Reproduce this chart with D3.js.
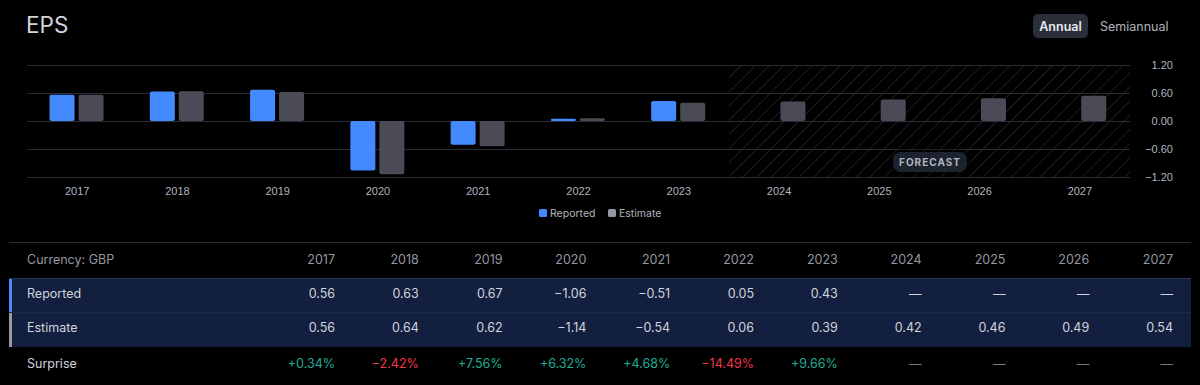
<!DOCTYPE html>
<html lang="en">
<head>
<meta charset="utf-8">
<title>EPS</title>
<script src="https://d3js.org/d3.v7.min.js"></script>
<style>
  html, body { margin: 0; padding: 0; background: #000; }
  svg { display: block; font-family: Inter, "Noto Sans", sans-serif; }
  .axis text { fill: #b2b5be; font-size: 11px; }
  .cell { fill: #d1d4dc; font-size: 12.5px; }
</style>
</head>
<body>
<script>
// Data
var years = ["2017", "2018", "2019", "2020", "2021", "2022", "2023", "2024", "2025", "2026", "2027"];
var reported = [0.56, 0.63, 0.67, -1.06, -0.51, 0.05, 0.43, null, null, null, null];
var estimate = [0.56, 0.64, 0.62, -1.14, -0.54, 0.06, 0.39, 0.42, 0.46, 0.49, 0.54];
var surprise = ["+0.34%", "\u22122.42%", "+7.56%", "+6.32%", "+4.68%", "\u221214.49%", "+9.66%", null, null, null, null];
var yTicks = [1.2, 0.6, 0, -0.6, -1.2];
var firstForecast = "2024";

var w = 1200, h = 385;
var blue = "#448aff", grey = "#4a4b56", text = "#d1d4dc", muted = "#b2b5be";

var svg = d3.select("body").append("svg").attr("width", w).attr("height", h);

// Title and period switch
svg.append("text").attr("x", 26).attr("y", 33).attr("fill", text)
  .attr("font-size", 22.5).text("EPS");
svg.append("rect").attr("x", 1033).attr("y", 14).attr("width", 55).attr("height", 24)
  .attr("rx", 5).attr("fill", "#2a2e39");
svg.append("text").attr("x", 1060.5).attr("y", 30.5).attr("text-anchor", "middle")
  .attr("fill", "#e6e8ee").attr("font-size", 12.5).attr("font-weight", 600).text("Annual");
svg.append("text").attr("x", 1100).attr("y", 30.5)
  .attr("fill", muted).attr("font-size", 12.5).text("Semiannual");

// Scales
var x = d3.scaleBand().domain(years).range([27, 1130]);
var y = d3.scaleLinear().domain([-1.2, 1.2]).range([177, 65]);
var barW = 25, gap = 4;

// Hatched forecast area
var defs = svg.append("defs");
defs.append("pattern").attr("id", "hatch").attr("patternUnits", "userSpaceOnUse")
  .attr("width", 10).attr("height", 10).attr("patternTransform", "rotate(45)")
  .append("line").attr("x1", 0).attr("y1", 0).attr("x2", 0).attr("y2", 10)
  .attr("stroke", "#2e313c").attr("stroke-width", 1.2);
var fx = x(firstForecast) + x.step() / 2 - 50;
svg.append("rect").attr("x", fx).attr("y", y(1.2)).attr("width", 1130 - fx)
  .attr("height", y(-1.2) - y(1.2)).attr("fill", "url(#hatch)");

// Grid
svg.append("g").selectAll("line").data(yTicks).join("line")
  .attr("x1", 27).attr("x2", 1130)
  .attr("y1", function(d) { return Math.round(y(d)) + 0.5; })
  .attr("y2", function(d) { return Math.round(y(d)) + 0.5; })
  .attr("stroke", "#2a2d35");

// Y axis
var yAxis = d3.axisRight(y).tickValues(yTicks).tickSize(0).tickPadding(0)
  .tickFormat(function(d) { return d3.format(".2f")(d).replace("-", "\u2212"); });
svg.append("g").attr("class", "axis").attr("transform", "translate(1173,0)")
  .call(yAxis)
  .call(function(g) { g.select(".domain").remove(); })
  .selectAll("text").attr("text-anchor", "end");

// X axis
var xAxis = d3.axisBottom(x).tickSize(0).tickPadding(0);
svg.append("g").attr("class", "axis").attr("transform", "translate(0,187.5)")
  .call(xAxis)
  .call(function(g) { g.select(".domain").remove(); });

// Bars
function barPath(x0, v, wd) {
  var y0 = y(0), y1 = y(v), r = Math.min(2, Math.abs(y1 - y0) / 2);
  var top = Math.min(y0, y1), bot = Math.max(y0, y1);
  return "M" + (x0 + r) + "," + top + "H" + (x0 + wd - r) + "Q" + (x0 + wd) + "," + top + " " + (x0 + wd) + "," + (top + r)
    + "V" + (bot - r) + "Q" + (x0 + wd) + "," + bot + " " + (x0 + wd - r) + "," + bot
    + "H" + (x0 + r) + "Q" + x0 + "," + bot + " " + x0 + "," + (bot - r)
    + "V" + (top + r) + "Q" + x0 + "," + top + " " + (x0 + r) + "," + top + "Z";
}
function cx(d) { return x(d) + x.bandwidth() / 2 - 0.6; }

svg.append("g").selectAll("path").data(years.filter(function(d, i) { return reported[i] != null; }))
  .join("path")
  .attr("d", function(d) { var i = years.indexOf(d); return barPath(cx(d) - gap / 2 - barW, reported[i], barW); })
  .attr("fill", blue);
svg.append("g").selectAll("path").data(years)
  .join("path")
  .attr("d", function(d, i) { return barPath(cx(d) + gap / 2, estimate[i], barW); })
  .attr("fill", grey);

// Forecast badge
var bx = 930, by = 162;
defs.append("filter").attr("id", "glow").attr("x", "-50%").attr("y", "-50%").attr("width", "200%").attr("height", "200%")
  .append("feDropShadow").attr("dx", 0).attr("dy", 0).attr("stdDeviation", 4)
  .attr("flood-color", "#000").attr("flood-opacity", 0.9);
svg.append("rect").attr("x", bx - 37).attr("y", by - 10).attr("width", 74).attr("height", 20)
  .attr("rx", 8).attr("fill", "#1e222d").attr("filter", "url(#glow)");
svg.append("text").attr("x", bx).attr("y", by + 3.5).attr("text-anchor", "middle")
  .attr("fill", muted).attr("font-size", 10).attr("font-weight", 700)
  .attr("letter-spacing", 1).text("FORECAST");

// Legend
var legend = [{ name: "Reported", color: blue, x: 539 }, { name: "Estimate", color: "#9598a1", x: 608 }];
var lg = svg.append("g").selectAll("g").data(legend).join("g")
  .attr("transform", function(d) { return "translate(" + d.x + ",209)"; });
lg.append("rect").attr("width", 8).attr("height", 8).attr("rx", 1.5).attr("fill", function(d) { return d.color; });
lg.append("text").attr("x", 11).attr("y", 8).attr("fill", muted).attr("font-size", 10.5)
  .text(function(d) { return d.name; });

// Table
svg.append("line").attr("x1", 9).attr("x2", 1191).attr("y1", 242.5).attr("y2", 242.5).attr("stroke", "#2a2e39");
var col = d3.scalePoint().domain(years).range([335, 1173]);

svg.append("text").attr("x", 27).attr("y", 263.5).attr("fill", "#9598a1").attr("font-size", 12.5).text("Currency: GBP");
svg.append("g").selectAll("text").data(years).join("text")
  .attr("x", function(d) { return col(d); }).attr("y", 263.5).attr("text-anchor", "end")
  .attr("fill", "#9598a1").attr("font-size", 12.5).text(function(d) { return d; });

svg.append("rect").attr("x", 9).attr("y", 278).attr("width", 1182).attr("height", 69).attr("fill", "#131f3f");
svg.append("line").attr("x1", 9).attr("x2", 1191).attr("y1", 278.5).attr("y2", 278.5).attr("stroke", "#2a3550");
svg.append("line").attr("x1", 9).attr("x2", 1191).attr("y1", 312.5).attr("y2", 312.5).attr("stroke", "#1d2949");
svg.append("rect").attr("x", 9).attr("y", 279).attr("width", 3).attr("height", 33).attr("fill", blue);
svg.append("rect").attr("x", 9).attr("y", 313).attr("width", 3).attr("height", 34).attr("fill", "#9598a1");

function fmt(v) { return v == null ? "\u2014" : d3.format(".2f")(v).replace("-", "\u2212"); }

var rows = [
  { label: "Reported", y: 297.5, vals: reported.map(fmt) },
  { label: "Estimate", y: 332, vals: estimate.map(fmt) }
];
rows.forEach(function(r) {
  svg.append("text").attr("class", "cell").attr("x", 27).attr("y", r.y).text(r.label);
  svg.append("g").selectAll("text").data(r.vals).join("text").attr("class", "cell")
    .attr("x", function(d, i) { return col(years[i]); }).attr("y", r.y).attr("text-anchor", "end")
    .text(function(d) { return d; });
});

svg.append("text").attr("class", "cell").attr("x", 27).attr("y", 368).text("Surprise");
svg.append("g").selectAll("text").data(surprise).join("text")
  .attr("x", function(d, i) { return col(years[i]); }).attr("y", 368).attr("text-anchor", "end")
  .attr("font-size", 12.5)
  .attr("fill", function(d) { return d == null ? "#787b86" : (d[0] === "+" ? "#22ab94" : "#f23645"); })
  .text(function(d) { return d == null ? "\u2014" : d; });
</script>
</body>
</html>
